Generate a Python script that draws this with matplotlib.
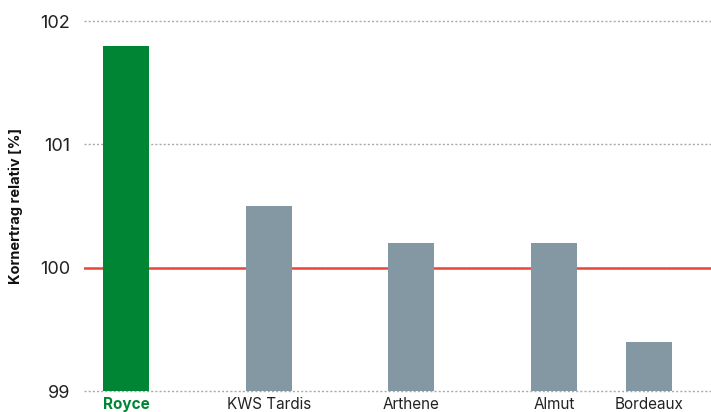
import matplotlib
matplotlib.use("Agg")
import matplotlib.pyplot as plt

sorten = ["Royce", "KWS Tardis", "Arthene", "Almut", "Bordeaux"]
ertrag = [101.8, 100.5, 100.2, 100.2, 99.4]
pos = [0, 1, 2, 3, 3.665]
farben = ["#008535", "#8498a3", "#8498a3", "#8498a3", "#8498a3"]
referenz = 100
yticks = [99, 100, 101, 102]

plt.rcParams['font.family'] = ['Inter', 'DejaVu Sans']

fig = plt.figure(figsize=(7.11, 4.12), dpi=100)
ax = fig.add_axes([84/711, 1 - 391/412, 1 - 84/711, (391 - 21)/412])

ax.axhline(referenz, color="#e8473c", linewidth=1.8, zorder=2)
ax.bar(pos, [e - 99 for e in ertrag], bottom=99, width=0.322, color=farben, zorder=3)

ax.set_ylim(99, 102)
ax.set_xlim(-0.294, 3.665 + 0.434)
ax.set_yticks(yticks)
ax.set_yticklabels([str(t) for t in yticks], fontsize=13, color="#222222")
ax.set_xticks(pos)
ax.set_xticklabels(sorten, fontsize=11, color="#222222")
lbl = ax.get_xticklabels()[0]
lbl.set_color("#008535")
lbl.set_fontweight("bold")

ax.grid(axis="y", linestyle=(0, (1.5, 1.5)), color="#aaaaaa", linewidth=1, zorder=0)
for g in ax.get_ygridlines():
    g.set_clip_on(False)
for s in ax.spines.values():
    s.set_visible(False)
ax.tick_params(axis="both", length=0)
ax.tick_params(axis="y", pad=10)
ax.tick_params(axis="x", pad=4)
ax.set_ylabel("Kornertrag relativ [%]", fontsize=10.5, fontweight="bold", color="#111111", labelpad=12)

fig.savefig("out.png", dpi=100)
